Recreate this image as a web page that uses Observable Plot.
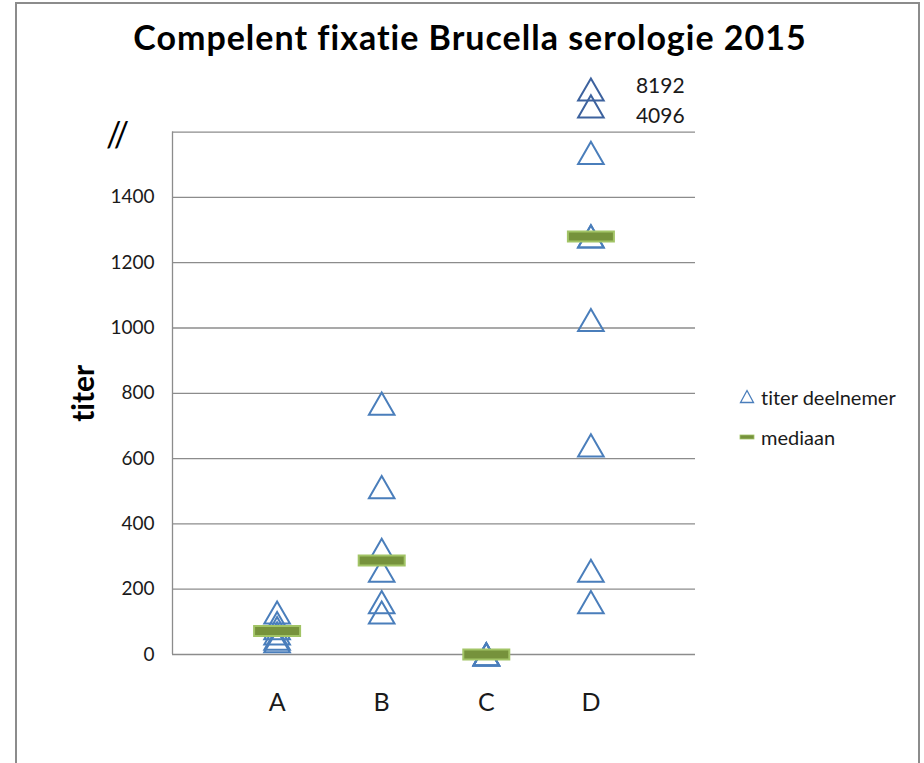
<!DOCTYPE html>
<html>
<head>
<meta charset="utf-8">
<script src="https://cdn.jsdelivr.net/npm/d3@7"></script>
<script src="https://cdn.jsdelivr.net/npm/@observablehq/plot@0.6"></script>
<style>
  html, body { margin: 0; padding: 0; background: #fff; overflow: hidden; }
  #wrap { position: relative; width: 924px; height: 763px; font-family: Lato, "Open Sans", sans-serif; font-variant-ligatures: none; }
  #chart { position: absolute; left: 0; top: 0; }
  #border { position: absolute; left: 15px; top: 2px; width: 905px; height: 820px; border: 2px solid #8c8c8c; pointer-events: none; box-sizing: border-box; }
  #title { position: absolute; left: 0; width: 940px; top: 16px; text-align: center; font-weight: bold; font-size: 34px; letter-spacing: 1px; color: #000; line-height: normal; }
  #legend { position: absolute; left: 739px; top: 377px; font-size: 20px; color: #1a1a1a; }
  #legend .row { display: flex; align-items: center; height: 40px; }
  #legend svg { margin-right: 6px; }
  svg text { font-variant-ligatures: none; }
</style>
</head>
<body>
<div id="wrap">
  <div id="chart"></div>
  <div id="title">Compelent fixatie Brucella serologie 2015</div>
  <div id="legend"></div>
  <div id="border"></div>
</div>
<script>
// ---- data ----
const categories = ["A", "B", "C", "D"];
const titersA = [40, 48, 64, 80, 96, 128];
const titersB = [128, 160, 256, 320, 512, 768];
const titersC = [0, 0, 0, 0];
const titersD = [160, 256, 640, 1024, 1280, 1280, 1536];
const medians = [72, 288, 0, 1280];
// values above the axis break (category D), drawn above the "//"
const brokenTiters = [8192, 4096];
const brokenPos = [1730, 1678];     // where they sit above the break
const brokenLabelPos = [1740, 1648];
const yTicks = [0, 200, 400, 600, 800, 1000, 1200, 1400];
const yGrid = [200, 400, 600, 800, 1000, 1200, 1400, 1600];

const seriesList = [titersA, titersB, titersC, titersD];
const points = seriesList.flatMap((arr, i) => arr.map(v => ({idx: i + 1, cat: categories[i], titer: v})));
const medianRows = medians.map((m, i) => ({idx: i + 1, median: m}));
const brokenRows = brokenTiters.map((t, i) => ({idx: 4, titer: t, pos: brokenPos[i], labelPos: brokenLabelPos[i]}));

const blue = "#4a7ebb";
const darkBlue = "#3d629e";
const medFill = "#76923c";
const medStroke = "#a2c466";

const medianSymbol = {
  draw(ctx) { ctx.rect(-23, -5, 46, 10); }
};

const plot = Plot.plot({
  width: 924,
  height: 763,
  marginLeft: 172,
  marginRight: 229,
  marginTop: 131.6,
  marginBottom: 109,
  style: {fontFamily: "Lato, 'Open Sans', sans-serif", background: "transparent"},
  x: {type: "linear", domain: [0, 5]},
  y: {domain: [0, 1600]},
  marks: [
    Plot.ruleY(yGrid, {stroke: "#8c8c8c", strokeWidth: 1.3, strokeOpacity: 1}),
    Plot.ruleY([0], {stroke: "#8c8c8c", strokeWidth: 1.3}),
    Plot.ruleX([0], {stroke: "#8c8c8c", strokeWidth: 1.3}),
    Plot.axisY({ticks: yTicks, tickFormat: d => String(d), tickSize: 0, tickPadding: 18, fontSize: 19, color: "#1a1a1a", label: null}),
    Plot.axisX({ticks: [1, 2, 3, 4], tickFormat: d => categories[d - 1], tickSize: 0, tickPadding: 39, fontSize: 25, color: "#1a1a1a", label: null}),
    Plot.text(["titer"], {frameAnchor: "left", textAnchor: "middle", lineAnchor: "middle", rotate: -90, dx: -88, fontWeight: "bold", fontSize: 30, fill: "#000"}),
    Plot.text(["//"], {frameAnchor: "top-left", textAnchor: "middle", lineAnchor: "middle", dx: -55, dy: 4, fontSize: 34, fill: "#000"}),
    Plot.dot(points, {x: "idx", y: "titer", symbol: "triangle", r: 9.5, dy: 3.5, stroke: blue, strokeWidth: 2, fill: "none"}),
    Plot.dot(brokenRows, {x: "idx", y: "pos", symbol: "triangle", r: 9.5, dy: 3.5, stroke: darkBlue, strokeWidth: 2, fill: "none"}),
    Plot.text(brokenRows, {x: "idx", y: "labelPos", text: d => String(d.titer), textAnchor: "start", dx: 45, fontSize: 21, fill: "#1a1a1a"}),
    Plot.dot(medianRows, {x: "idx", y: "median", symbol: medianSymbol, fill: medFill, stroke: medStroke, strokeWidth: 2})
  ]
});
document.getElementById("chart").appendChild(plot);

// legend
const legend = document.getElementById("legend");
legend.innerHTML = `
  <div class="row"><svg width="16" height="16" viewBox="-8 -8 16 16"><path d="M0,-6.5L6.5,5.5L-6.5,5.5Z" fill="none" stroke="${blue}" stroke-width="1.3"/></svg><span>titer deelnemer</span></div>
  <div class="row"><svg width="16" height="16" viewBox="-8 -8 16 16"><rect x="-7" y="-2" width="14" height="4" fill="${medFill}" stroke="${medStroke}" stroke-width="0.8"/></svg><span>mediaan</span></div>`;
</script>
</body>
</html>
